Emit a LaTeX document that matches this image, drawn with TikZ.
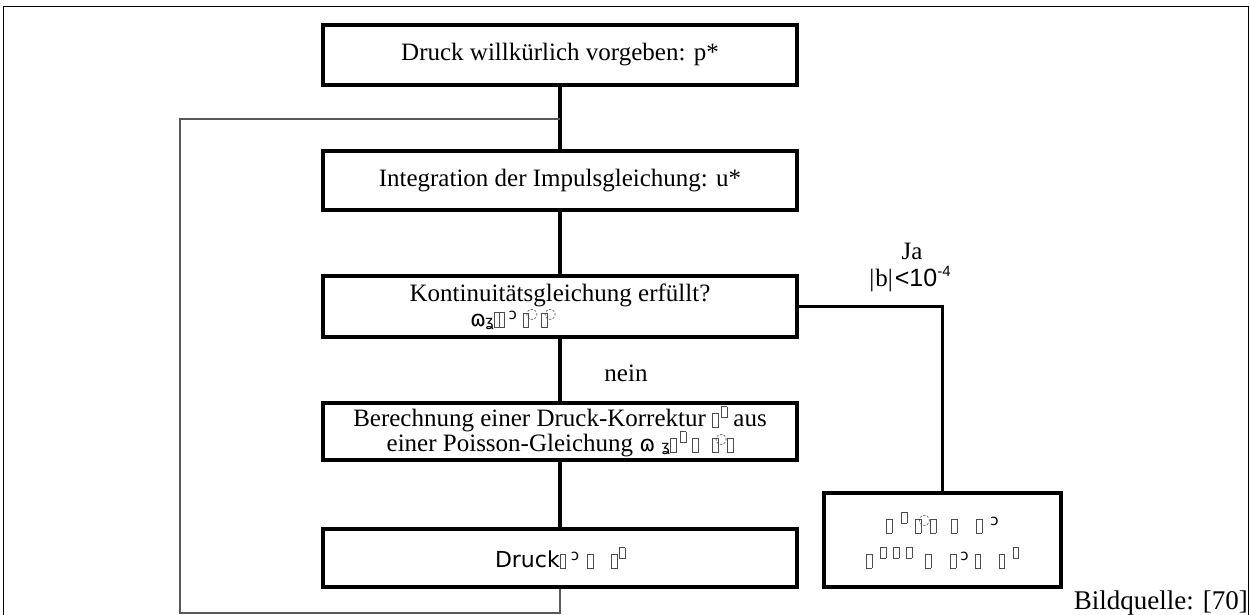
\documentclass[tikz,border=0pt]{standalone}
\usepackage{fontspec}
\setmainfont{Liberation Serif}
\newfontfamily\dvs{DejaVu Sans}
\newfontfamily\lsans{Liberation Sans}
% placeholder glyph box (missing symbol), full height and raised small variant
\newcommand{\tofu}[1][0.55em]{{\color{black!70}\setlength{\fboxsep}{0pt}\setlength{\fboxrule}{0.5pt}\raisebox{-0.05em}{\fbox{\rule{0pt}{#1}\hspace{0.2em}}}}}
\newcommand{\sptofu}{\raisebox{0.4em}{\tofu[0.42em]}}
\newcommand{\dtofu}{{\color{black!70}\raisebox{0.3em}{\dvs\fontsize{14}{14}\selectfont ◌}}}
\newcommand{\hk}{\raisebox{0.25em}{\dvs\fontsize{15}{15}\selectfont ͻ}}
\begin{document}
\begin{tikzpicture}[x=1pt,y=-1pt,
  stepbox/.style={draw,line width=3.2pt,minimum width=474pt,align=center,inner sep=0pt,font=\fontsize{25}{29}\selectfont},
  conn/.style={line width=3.2pt},
  loopline/.style={line width=1.5pt,draw=black!65},
  lbl/.style={inner sep=0pt,font=\fontsize{25}{28}\selectfont}]
\useasboundingbox (0,0) rectangle (1250,615);
% frame
\draw[line width=1pt] (3,616) -- (3,7) -- (1248,7) -- (1248,616);
% main column
\node[stepbox,minimum height=60pt] (b1) at (560,55) {Druck willk\"urlich vorgeben: p*};
\node[stepbox,minimum height=59pt] (b2) at (560,180.5) {Integration der Impulsgleichung: u*};
\node[stepbox,minimum height=61pt] (b3) at (560,306.5)
  {Kontinuit\"atsgleichung erf\"ullt?\\[-4pt]
   \makebox[180pt][l]{{\dvs\fontsize{22}{22}\selectfont ɷ}\hspace{-1pt}{\dvs\fontsize{15}{15}\selectfont ʓ}\tofu[0.6em]\hspace{-1pt}\tofu[0.6em]\hspace{4pt}\hk\hspace{6pt}\tofu\hspace{-3pt}\dtofu\hspace{3pt}\tofu\hspace{-3pt}\dtofu}};
\node[stepbox,minimum height=57pt] (b4) at (560,431.5)
  {Berechnung einer Druck-Korrektur \tofu\hspace{3pt}\sptofu\ aus\\[-4pt]
   einer Poisson-Gleichung {\dvs\fontsize{22}{22}\selectfont ɷ}\hspace{6pt}{\dvs\fontsize{15}{15}\selectfont ʓ}\tofu\hspace{4pt}\sptofu\hspace{6pt}\tofu\hspace{14pt}\tofu\hspace{-3pt}\dtofu\tofu};
\node[stepbox,minimum height=58pt] (b5) at (560,558)
  {{\dvs\fontsize{22}{22}\selectfont Druck}\tofu\hspace{5pt}\hk\hspace{8pt}\tofu\hspace{18pt}\tofu\hspace{2pt}\sptofu};
\node[stepbox,minimum width=237pt,minimum height=94pt] (rb) at (942.5,540)
  {\tofu\hspace{9pt}\sptofu\hspace{8pt}\tofu\hspace{-3pt}\dtofu\tofu\hspace{15pt}\tofu\hspace{19pt}\tofu\hspace{8pt}\hk\\[6pt]
   \tofu\hspace{8pt}\sptofu\hspace{7pt}\sptofu\hspace{7pt}\sptofu\hspace{13pt}\tofu\hspace{19pt}\tofu\hspace{4pt}\hk\hspace{6pt}\tofu\hspace{18pt}\tofu\hspace{8pt}\sptofu};
% connectors
\draw[conn] (b1) -- (b2);
\draw[conn] (b2) -- (b3);
\draw[conn] (b3) -- (b4);
\draw[conn] (b4) -- (b5);
\coordinate (rc) at (rb.north |- b3.east);
\draw[conn] (b3.east) -- (rc) -- (rb.north);
% feedback loop
\coordinate (lb) at (b5.south |- 0,613);
\coordinate (lbl) at (180,613);
\coordinate (ltl) at (180,119);
\coordinate (ltr) at (b2.north |- 0,119);
\draw[loopline] (b5.south) -- (lb) -- (lbl) -- (ltl) -- (ltr);
% labels
\node[lbl] (nein) at (626,373) {nein};
\node[lbl] (ja) at (912,251) {Ja};
\node[lbl] (cond) at (910,279) {|\hspace{1pt}b|\hspace{2pt}{\lsans\fontsize{25}{26}\selectfont <10\raisebox{0.42em}{\fontsize{15}{16}\selectfont -4}}};
\node[lbl,anchor=east,font=\fontsize{27}{30}\selectfont] (src) at (1248,603) {Bildquelle: [70]};
\end{tikzpicture}
\end{document}
